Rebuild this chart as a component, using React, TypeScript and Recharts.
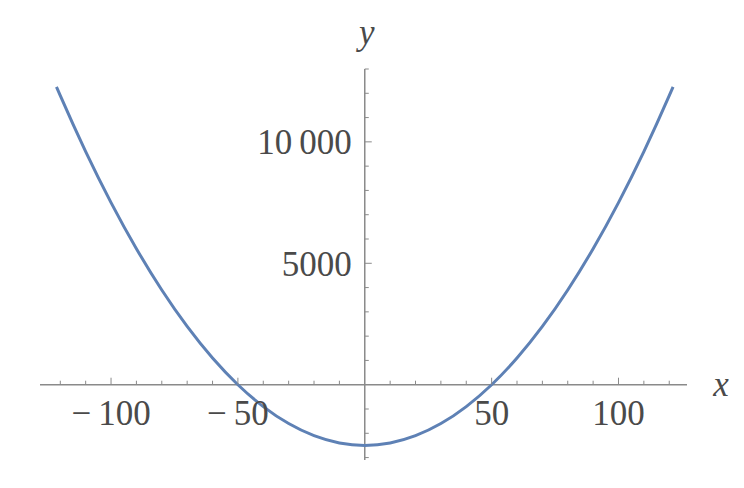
import { LineChart, Line, XAxis, YAxis, ReferenceLine } from 'recharts';

const xValues = [-121.5, -120, -110, -100, -90, -80, -70, -60, -50, -40, -30, -20, -10, 0, 10, 20, 30, 40, 50, 60, 70, 80, 90, 100, 110, 120, 121.5];
const yValues = [12262, 11900, 9600, 7500, 5600, 3900, 2400, 1100, 0, -900, -1600, -2100, -2400, -2500, -2400, -2100, -1600, -900, 0, 1100, 2400, 3900, 5600, 7500, 9600, 11900, 12262];

const xTicks = [-120, -110, -100, -90, -80, -70, -60, -50, -40, -30, -20, -10, 10, 20, 30, 40, 50, 60, 70, 80, 90, 100, 110, 120];
const xLabeled = [-100, -50, 50, 100];
const yTicks = [-3000, -2000, -1000, 1000, 2000, 3000, 4000, 5000, 6000, 7000, 8000, 9000, 10000, 11000, 12000, 13000];
const yLabeled = [5000, 10000];

const data = xValues.map((x, i) => ({ x, y: yValues[i] }));

const W = 744;
const H = 488;
const AXIS_SIZE = 1;
const margin = { top: 69, right: 57, bottom: 28 - AXIS_SIZE, left: 40 - AXIS_SIZE };
const xDomain: [number, number] = [-128, 127];
const yDomain: [number, number] = [-3100, 13000];

const plotLeft = 40;
const plotW = W - 40 - margin.right;
const plotH = H - margin.top - 28;
const x0 = plotLeft + (plotW * (0 - xDomain[0])) / (xDomain[1] - xDomain[0]);
const y0 = margin.top + (plotH * (yDomain[1] - 0)) / (yDomain[1] - yDomain[0]);

const AXIS = '#8a8a8a';
const TEXT = '#4a4a4a';
const FONT = '"Liberation Serif", "DejaVu Serif", serif';
const FS = 35;

const fmt = (v: number) => {
  const s = Math.abs(v) >= 10000 ? String(v).replace(/(\d)(?=(\d{3})+$)/g, '$1\u2009') : String(v);
  return v < 0 ? '\u2212\u2009' + s.replace('-', '') : s;
};

const XTick = (props: any) => {
  const { x, payload } = props;
  const major = xLabeled.includes(payload.value);
  return (
    <g>
      <line x1={x} x2={x} y1={y0} y2={y0 - (major ? 7 : 4)} stroke={AXIS} strokeWidth={1} />
      {major && (
        <text x={x} y={y0 + 29} textAnchor="middle" dominantBaseline="central" fontFamily={FONT} fontSize={FS} fill={TEXT}>
          {fmt(payload.value)}
        </text>
      )}
    </g>
  );
};

const YTick = (props: any) => {
  const { y, payload } = props;
  const major = yLabeled.includes(payload.value);
  return (
    <g>
      <line x1={x0} x2={x0 + (major ? 7 : 4)} y1={y} y2={y} stroke={AXIS} strokeWidth={1} />
      {major && (
        <text x={x0 - 13} y={y + 1} textAnchor="end" dominantBaseline="central" fontFamily={FONT} fontSize={FS} fill={TEXT}>
          {fmt(payload.value)}
        </text>
      )}
    </g>
  );
};

export default function App() {
  return (
    <div style={{ position: 'absolute', left: 0, top: 0, background: '#fff' }}>
      <LineChart width={W} height={H} data={data} margin={margin}>
        <XAxis
          dataKey="x"
          type="number"
          domain={xDomain}
          ticks={xTicks}
          interval={0}
          axisLine={false}
          tickLine={false}
          height={AXIS_SIZE}
          tick={XTick}
          allowDataOverflow
        />
        <YAxis
          type="number"
          domain={yDomain}
          ticks={yTicks}
          interval={0}
          axisLine={false}
          tickLine={false}
          width={AXIS_SIZE}
          tick={YTick}
          allowDataOverflow
        />
        <ReferenceLine
          x={0}
          stroke={AXIS}
          strokeWidth={1.5}
          label={(p: any) => (
            <text x={p.viewBox.x + 2} y={p.viewBox.y - 37} textAnchor="middle" dominantBaseline="central" fontFamily={FONT} fontStyle="italic" fontSize={FS} fill={TEXT}>
              y
            </text>
          )}
        />
        <ReferenceLine
          y={0}
          stroke={AXIS}
          strokeWidth={1.5}
          label={(p: any) => (
            <text x={p.viewBox.x + p.viewBox.width + 34} y={p.viewBox.y} textAnchor="middle" dominantBaseline="central" fontFamily={FONT} fontStyle="italic" fontSize={FS} fill={TEXT}>
              x
            </text>
          )}
        />
        <Line dataKey="y" type="monotone" stroke="#5E81B5" strokeWidth={3} dot={false} isAnimationActive={false} />
      </LineChart>
    </div>
  );
}
